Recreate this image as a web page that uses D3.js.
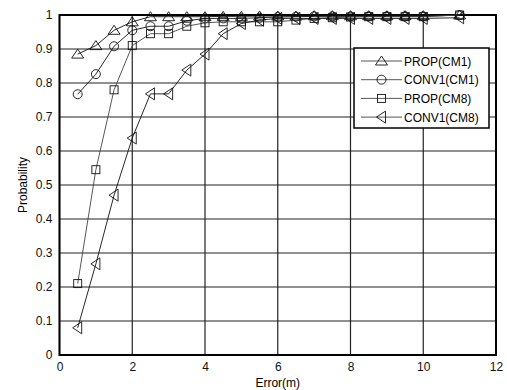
<!DOCTYPE html>
<html>
<head>
<meta charset="utf-8">
<script src="https://cdn.jsdelivr.net/npm/d3@7"></script>
<style>
  body { margin: 0; background: #fff; }
  svg { display: block; font-family: "Liberation Sans", Arial, sans-serif; }
</style>
</head>
<body>
<div id="app"></div>
<script>
const WIDTH = 507;
const HEIGHT = 390;
const margin = { top: 15, right: 11, bottom: 35, left: 59.5 };

// x positions of samples (m)
const errors = [0.5, 1, 1.5, 2, 2.5, 3, 3.5, 4, 4.5, 5, 5.5, 6, 6.5, 7, 7.5, 8, 8.5, 9, 9.5, 10, 11];

const propCM1  = [0.885, 0.91, 0.955, 0.98, 0.995, 0.995, 0.995, 0.995, 0.996, 0.996, 0.997, 0.997, 0.997, 0.998, 0.998, 0.998, 0.998, 0.998, 0.998, 0.998, 1.0];
const conv1CM1 = [0.767, 0.826, 0.908, 0.955, 0.967, 0.967, 0.983, 0.99, 0.99, 0.99, 0.992, 0.994, 0.995, 0.996, 0.996, 0.996, 0.996, 0.996, 0.996, 0.996, 1.0];
const propCM8  = [0.21, 0.545, 0.78, 0.91, 0.945, 0.945, 0.967, 0.977, 0.98, 0.98, 0.98, 0.98, 0.985, 0.99, 0.992, 0.994, 0.995, 0.995, 0.995, 0.995, 1.0];
const conv1CM8 = [0.08, 0.268, 0.47, 0.638, 0.768, 0.768, 0.838, 0.885, 0.945, 0.975, 0.985, 0.99, 0.99, 0.99, 0.99, 0.99, 0.99, 0.99, 0.99, 0.99, 0.992];

const seriesNames = ['PROP(CM1)', 'CONV1(CM1)', 'PROP(CM8)', 'CONV1(CM8)'];
const seriesValues = [propCM1, conv1CM1, propCM8, conv1CM8];
const markerTypes = ['triangleUp', 'circle', 'square', 'triangleLeft'];

const xTicks = [0, 2, 4, 6, 8, 10, 12];
const yTicks = d3.range(0, 11).map(i => i / 10);

const svg = d3.select('#app')
  .append('svg')
  .attr('width', WIDTH)
  .attr('height', HEIGHT);

const x = d3.scaleLinear().domain([0, 12]).range([margin.left, WIDTH - margin.right]);
const y = d3.scaleLinear().domain([0, 1]).range([HEIGHT - margin.bottom, margin.top]);

// grid
const grid = svg.append('g').attr('class', 'grid');
grid.selectAll('line.h')
  .data(yTicks)
  .join('line')
  .attr('x1', x(0)).attr('x2', x(12))
  .attr('y1', d => y(d)).attr('y2', d => y(d))
  .attr('stroke', '#222').attr('stroke-width', 1.2);
grid.selectAll('line.v')
  .data(xTicks)
  .join('line')
  .attr('x1', d => x(d)).attr('x2', d => x(d))
  .attr('y1', y(0)).attr('y2', y(1))
  .attr('stroke', '#222').attr('stroke-width', 1.2);

// frame
svg.append('rect')
  .attr('x', x(0)).attr('y', y(1))
  .attr('width', x(12) - x(0)).attr('height', y(0) - y(1))
  .attr('fill', 'none').attr('stroke', '#000').attr('stroke-width', 2);

// axes (labels only, grid carries the ticks)
const xAxis = svg.append('g')
  .attr('transform', `translate(0,${y(0)})`)
  .call(d3.axisBottom(x).tickValues(xTicks).tickSize(0).tickPadding(7).tickFormat(d3.format('d')));
const yAxis = svg.append('g')
  .attr('transform', `translate(${x(0)},0)`)
  .call(d3.axisLeft(y).tickValues(yTicks).tickSize(0).tickPadding(7).tickFormat(d => d === 0 || d === 1 ? d3.format('d')(d) : d3.format('.1f')(d)));

[xAxis, yAxis].forEach(a => {
  a.select('.domain').remove();
  a.selectAll('text').attr('font-size', 12).attr('fill', '#111').style('font-family', '"Liberation Sans", Arial, sans-serif');
});

svg.append('text')
  .attr('x', (x(0) + x(12)) / 2)
  .attr('y', 387)
  .attr('text-anchor', 'middle')
  .attr('font-size', 12)
  .text('Error(m)');

svg.append('text')
  .attr('transform', `translate(27,${(y(0) + y(1)) / 2}) rotate(-90)`)
  .attr('text-anchor', 'middle')
  .attr('font-size', 12)
  .text('Probability');

function drawMarker(g, type, cx, cy) {
  const s = 5;
  let el;
  if (type === 'circle') {
    el = g.append('circle').attr('cx', cx).attr('cy', cy).attr('r', 4.5);
  } else if (type === 'square') {
    el = g.append('rect').attr('x', cx - 4).attr('y', cy - 4).attr('width', 8).attr('height', 8);
  } else if (type === 'triangleUp') {
    el = g.append('path').attr('d', `M${cx},${cy - s}L${cx + s + 1},${cy + s - 1}L${cx - s - 1},${cy + s - 1}Z`);
  } else {
    el = g.append('path').attr('d', `M${cx - s},${cy}L${cx + s - 1},${cy - s - 1}L${cx + s - 1},${cy + s + 1}Z`);
  }
  el.attr('fill', 'none').attr('stroke', '#111').attr('stroke-width', 0.9);
}

const line = d3.line().x(d => x(d[0])).y(d => y(d[1]));

const plot = svg.append('g').attr('class', 'series');
seriesValues.forEach((vals, i) => {
  const pts = errors.map((e, j) => [e, vals[j]]);
  plot.append('path')
    .datum(pts)
    .attr('d', line)
    .attr('fill', 'none')
    .attr('stroke', i === 2 ? '#444' : '#111')
    .attr('stroke-width', 0.9);
  const mg = plot.append('g');
  pts.forEach(p => drawMarker(mg, markerTypes[i], x(p[0]), y(p[1])));
});

// legend
const legend = svg.append('g').attr('class', 'legend');
legend.append('rect')
  .attr('x', 354).attr('y', 48)
  .attr('width', 135).attr('height', 80)
  .attr('fill', '#fff').attr('stroke', '#000').attr('stroke-width', 1.5);

seriesNames.forEach((name, i) => {
  const ly = 61 + i * 18.7;
  legend.append('line')
    .attr('x1', 361).attr('x2', 402)
    .attr('y1', ly).attr('y2', ly)
    .attr('stroke', '#444').attr('stroke-width', 0.9);
  drawMarker(legend, markerTypes[i], 381.5, ly);
  legend.append('text')
    .attr('x', 404).attr('y', ly + 4.5)
    .attr('font-size', 12)
    .text(name);
});
</script>
</body>
</html>
